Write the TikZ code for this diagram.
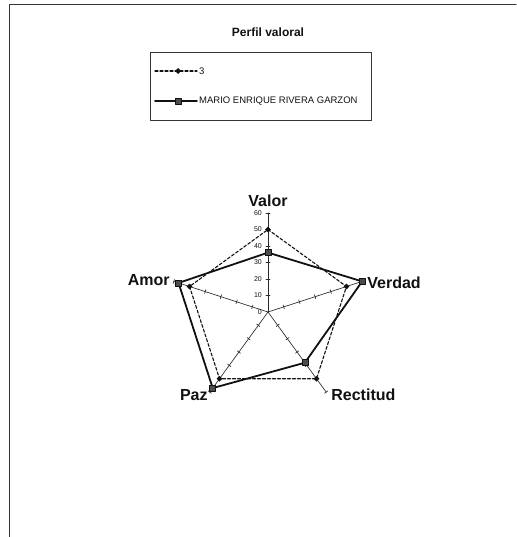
\documentclass[tikz,border=0pt]{standalone}
\usepackage{fontspec}
\setmainfont{Liberation Sans}
\definecolor{ink}{HTML}{111111}
\usetikzlibrary{
  arrows.meta,
  positioning,
  calc,
  shapes.geometric
}
\tikzset{
  every picture/.style={line cap=round, line join=round},
  every node/.style={text=ink},
  marco/.style={draw=ink!85, line width=1pt},
  eje/.style={draw=ink!90, line width=0.65pt},
  serietres/.style={draw=ink, line width=1.1pt, dash pattern=on 3pt off 2pt},
  seriemario/.style={draw=ink, line width=1.8pt},
  marcatres/.style={diamond, fill=ink, inner sep=0pt, minimum size=6pt},
  marcamario/.style={rectangle, fill=ink!75, draw=ink, line width=0.7pt, inner sep=0pt, minimum size=6pt},
  titulo/.style={font=\bfseries\fontsize{12}{14}\selectfont},
  etiqueta/.style={font=\bfseries\fontsize{16}{18}\selectfont, inner sep=1pt},
  escalanum/.style={font=\fontsize{7}{8}\selectfont, inner sep=1pt},
  leyenda/.style={draw=ink!85, line width=0.7pt, minimum width=221pt, minimum height=68pt, inner sep=0pt},
  textoley/.style={font=\fontsize{9.5}{11}\selectfont, inner sep=1pt}
}
% escala del radar: 1 unidad = 1.65pt
\newcommand{\radio}{1.65}

\begin{document}
\begin{tikzpicture}[x=1pt, y=1pt]
  \useasboundingbox (-268,-225) rectangle (248,312);
  \coordinate (centro) at (0,0);

  % marco del grafico
  \coordinate (marco-d) at (248,307);
  \coordinate (marco-s) at (-258,307);
  \coordinate (marco-i) at (-258,-225);
  \draw[marco] (marco-d) -- (marco-s) -- (marco-i);

  \node[titulo] (titulo) at (0,280) {Perfil valoral};

  % leyenda
  \node[leyenda] (leyenda) at (-7.5,226) {};
  \coordinate (ley1-a) at (-113,241);
  \coordinate (ley1-b) at (-71,241);
  \coordinate (ley2-a) at (-113,211);
  \coordinate (ley2-b) at (-71,211);
  \draw[serietres] (ley1-a) -- (ley1-b);
  \node[marcatres] at ($(ley1-a)!0.55!(ley1-b)$) {};
  \node[textoley, right=1pt of ley1-b] (ley1) {3};
  \draw[seriemario] (ley2-a) -- (ley2-b);
  \node[marcamario] at ($(ley2-a)!0.55!(ley2-b)$) {};
  \node[textoley, right=1pt of ley2-b] (ley2) {MARIO ENRIQUE RIVERA GARZON};

  % ejes con marcas cada 10
  \foreach \nombre/\ang in {valor/90, verdad/18, rectitud/-54, paz/-126, amor/162} {
    \draw[eje] (centro) -- (\ang:{60*\radio}) coordinate (fin-\nombre);
    \foreach \v in {10,20,...,60}
      \draw[eje] (\ang:{\v*\radio}) ++(\ang+90:2) -- ++(\ang-90:4);
  }
  \foreach \v in {0,10,...,60}
    \node[escalanum, anchor=east] (num\v) at (-5,{\v*\radio}) {\v};

  % nombres de los ejes
  \node[etiqueta, above=5pt of fin-valor] (lvalor) {Valor};
  \node[etiqueta, right=4pt of fin-verdad, yshift=-1pt] (lverdad) {Verdad};
  \node[etiqueta, right=4pt of fin-rectitud, yshift=-3pt] (lrectitud) {Rectitud};
  \node[etiqueta, left=1pt of fin-paz, yshift=-3pt] (lpaz) {Paz};
  \node[etiqueta, left=3pt of fin-amor, yshift=1pt] (lamor) {Amor};

  % serie 3
  \foreach \nombre/\ang/\v in {valor/90/50, verdad/18/50, rectitud/-54/50, paz/-126/50, amor/162/50}
    \coordinate (tres-\nombre) at (\ang:{\v*\radio});
  \draw[serietres] (tres-valor) -- (tres-verdad) -- (tres-rectitud) -- (tres-paz) -- (tres-amor) -- cycle;
  \foreach \nombre in {valor, verdad, rectitud, paz, amor}
    \node[marcatres] at (tres-\nombre) {};

  % serie MARIO ENRIQUE RIVERA GARZON
  \foreach \nombre/\ang/\v in {valor/90/36, verdad/18/60, rectitud/-54/38, paz/-126/57, amor/162/57}
    \coordinate (mario-\nombre) at (\ang:{\v*\radio});
  \draw[seriemario] (mario-valor) -- (mario-verdad) -- (mario-rectitud) -- (mario-paz) -- (mario-amor) -- cycle;
  \foreach \nombre in {valor, verdad, rectitud, paz, amor}
    \node[marcamario] at (mario-\nombre) {};
\end{tikzpicture}
\end{document}
